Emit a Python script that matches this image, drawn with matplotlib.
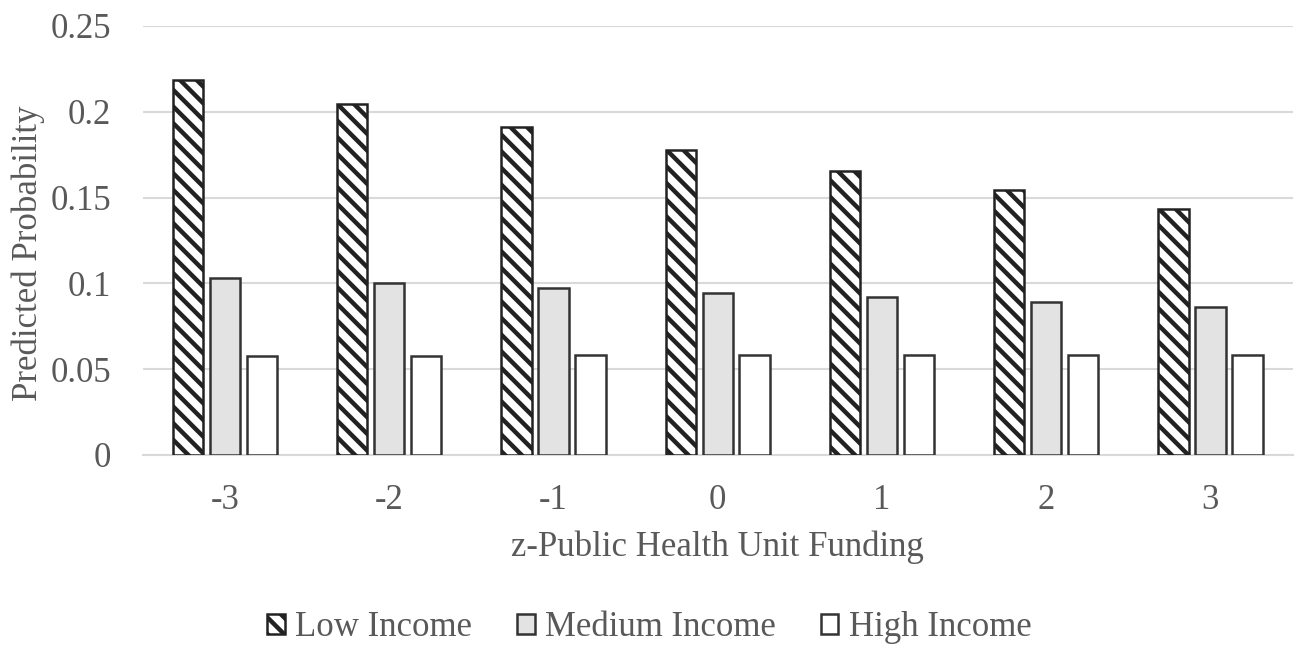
import numpy as np
import matplotlib.pyplot as plt

plt.rcParams['font.family'] = ['Liberation Serif', 'DejaVu Serif']
plt.rcParams['hatch.linewidth'] = 3.2

categories = ['-3', '-2', '-1', '0', '1', '2', '3']
low_income = [0.2185, 0.2045, 0.191, 0.1777, 0.1655, 0.1544, 0.1434]
medium_income = [0.1031, 0.1002, 0.0973, 0.0944, 0.0920, 0.0890, 0.0862]
high_income = [0.0578, 0.0578, 0.0580, 0.0580, 0.0580, 0.0582, 0.0584]

text_col = '#595959'
x = np.arange(len(categories))
w = 0.185
off = 0.225

fig = plt.figure(figsize=(12.99, 6.48), dpi=100)
ax = fig.add_axes([0.110, 0.298, 0.885, 0.662])

ax.bar(x - off, low_income, w, facecolor='white', edgecolor='#222222',
       hatch='\\\\', linewidth=1.8, label='Low Income', zorder=3)
ax.bar(x, medium_income, w, facecolor='#e3e3e3', edgecolor='#333333',
       linewidth=1.8, label='Medium Income', zorder=3)
ax.bar(x + off, high_income, w, facecolor='white', edgecolor='#333333',
       linewidth=1.8, label='High Income', zorder=3)

ax.set_xlim(-0.5, len(categories) - 0.5)
ax.set_ylim(0, 0.25)
ax.set_yticks([0, 0.05, 0.1, 0.15, 0.2, 0.25])
ax.set_yticklabels(['0', '0.05', '0.1', '0.15', '0.2', '0.25'])
ax.set_xticks(x)
ax.set_xticklabels(categories)
ax.tick_params(length=0, labelsize=25, colors=text_col, pad=21)
ax.tick_params(axis='y', pad=23)
ax.grid(axis='y', color='#d9d9d9', linewidth=1.5, zorder=0)
for s in ['top', 'right', 'left']:
    ax.spines[s].set_visible(False)
ax.spines['bottom'].set_color('#d9d9d9')
ax.spines['bottom'].set_linewidth(1.5)

ax.set_xlabel('z-Public Health Unit Funding', fontsize=25, color=text_col, labelpad=10)
ax.set_ylabel('Predicted Probability', fontsize=25, color=text_col)
ax.yaxis.set_label_coords(-0.085, 0.47)

fig.legend(loc='center', bbox_to_anchor=(0.5, 1 - 628 / 648), ncol=3,
           frameon=False, fontsize=25, labelcolor=text_col,
           handlelength=0.5, handleheight=0.5, handletextpad=0.3,
           columnspacing=1.3)

fig.savefig('out.png', dpi=100)
